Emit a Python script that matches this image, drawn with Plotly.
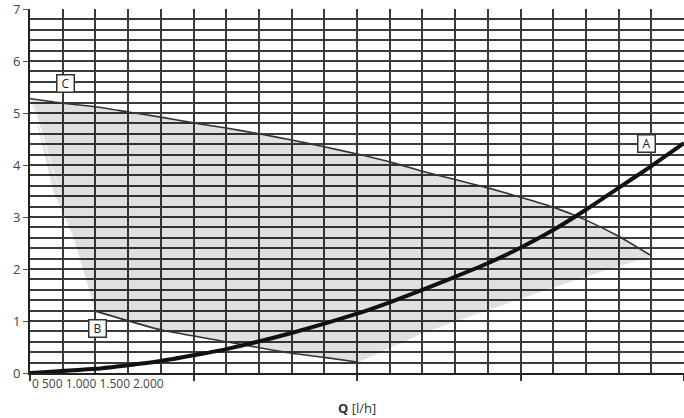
import plotly.graph_objects as go

# curve A (system curve)
a_q = [0, 1000, 1500, 2000, 2500, 3000, 4000, 5000, 5500, 6000, 6500, 7000, 7500, 8000, 8500, 9000, 9500, 10000]
a_h = [0, 0.08, 0.15, 0.23, 0.34, 0.46, 0.77, 1.14, 1.36, 1.6, 1.85, 2.11, 2.41, 2.75, 3.14, 3.56, 3.98, 4.42]

# curve B (min pump curve)
b_q = [1000, 2000, 3000, 4000, 4500, 5000]
b_h = [1.19, 0.83, 0.6, 0.38, 0.3, 0.21]

# curve C (max pump curve)
c_q = [0, 500, 1000, 1500, 2000, 2500, 3000, 3500, 4000, 4500, 5000,
       5500, 6000, 6500, 7000, 7500, 8000, 8500, 9000, 9480]
c_h = [5.28, 5.19, 5.12, 5.02, 4.92, 4.81, 4.71, 4.6, 4.48, 4.35, 4.21,
       4.06, 3.88, 3.72, 3.56, 3.38, 3.19, 2.94, 2.63, 2.27]

# shaded area edges
left_q = [1024, 872, 612, 352, 107, 31]
left_h = [1.19, 1.98, 2.75, 3.52, 4.81, 5.27]
right_q = [5000, 6009, 7798, 8716, 9480]
right_h = [0.19, 0.77, 1.56, 1.94, 2.23]

y_ticks = [0, 1, 2, 3, 4, 5, 6, 7]
x_label_text = "0 500 1.000 1.500 2.000"

# polygon: along C backwards, down left edge, along B, up right edge
poly_q = c_q[::-1] + left_q + b_q + right_q
poly_h = c_h[::-1] + left_h + b_h + right_h

fig = go.Figure()
fig.add_trace(go.Scatter(x=poly_q, y=poly_h, fill='toself', mode='none',
                         fillcolor='rgba(0,0,0,0.12)', hoverinfo='skip'))
fig.add_trace(go.Scatter(x=c_q, y=c_h, mode='lines', line=dict(color='#333', width=1.6, shape='spline', smoothing=0.6)))
fig.add_trace(go.Scatter(x=b_q, y=b_h, mode='lines', line=dict(color='#333', width=1.6, shape='spline', smoothing=0.6)))
fig.add_trace(go.Scatter(x=a_q, y=a_h, mode='lines', line=dict(color='#111', width=4, shape='spline', smoothing=0.6)))

# curve labels
for txt, qx, hy in [('C', 550, 5.56), ('B', 1025, 0.85), ('A', 9420, 4.42)]:
    fig.add_annotation(x=qx, y=hy, text=txt, showarrow=False, width=14, height=14,
                       font=dict(family='Open Sans', size=12, color='#222'),
                       bgcolor='white', bordercolor='#333', borderwidth=1.5, borderpad=1)

fig.add_annotation(xref='paper', yref='paper', x=0, y=-0.028, xanchor='left', yanchor='middle',
                   text=x_label_text, showarrow=False,
                   font=dict(family='Open Sans', size=12, color='#444'))
fig.add_annotation(xref='paper', yref='paper', x=0.5, y=-0.097, xanchor='center', yanchor='middle',
                   text='<b>Q</b> [l/h]', showarrow=False,
                   font=dict(family='Open Sans', size=13, color='#333'))

fig.update_xaxes(range=[0, 10000], dtick=2500, showticklabels=False, automargin=False,
                 ticks='outside', ticklen=6, tickcolor='#333', tickwidth=1.5,
                 showgrid=True, gridcolor='#3a3a3a', gridwidth=1.5,
                 minor=dict(dtick=500, showgrid=True, gridcolor='#3a3a3a', gridwidth=1.5),
                 showline=True, linecolor='#222', linewidth=2, zeroline=False, fixedrange=True)
fig.update_yaxes(range=[0, 7], tickvals=y_ticks, ticks='outside', ticklen=5, tickcolor='#555',
                 automargin=False, ticklabeloverflow='allow',
                 tickfont=dict(family='Open Sans', size=13, color='#444'),
                 showgrid=True, gridcolor='#3a3a3a', gridwidth=1.5,
                 minor=dict(dtick=0.2, showgrid=True, gridcolor='#3a3a3a', gridwidth=1.5),
                 showline=True, linecolor='#222', linewidth=2, zeroline=False, fixedrange=True)

fig.update_layout(width=684, height=418, margin=dict(l=30, r=0, t=9, b=45),
                  plot_bgcolor='white', paper_bgcolor='white', showlegend=False)

fig.write_html("out.html", config={'displayModeBar': False},
               post_script="document.body.style.margin='0';")
